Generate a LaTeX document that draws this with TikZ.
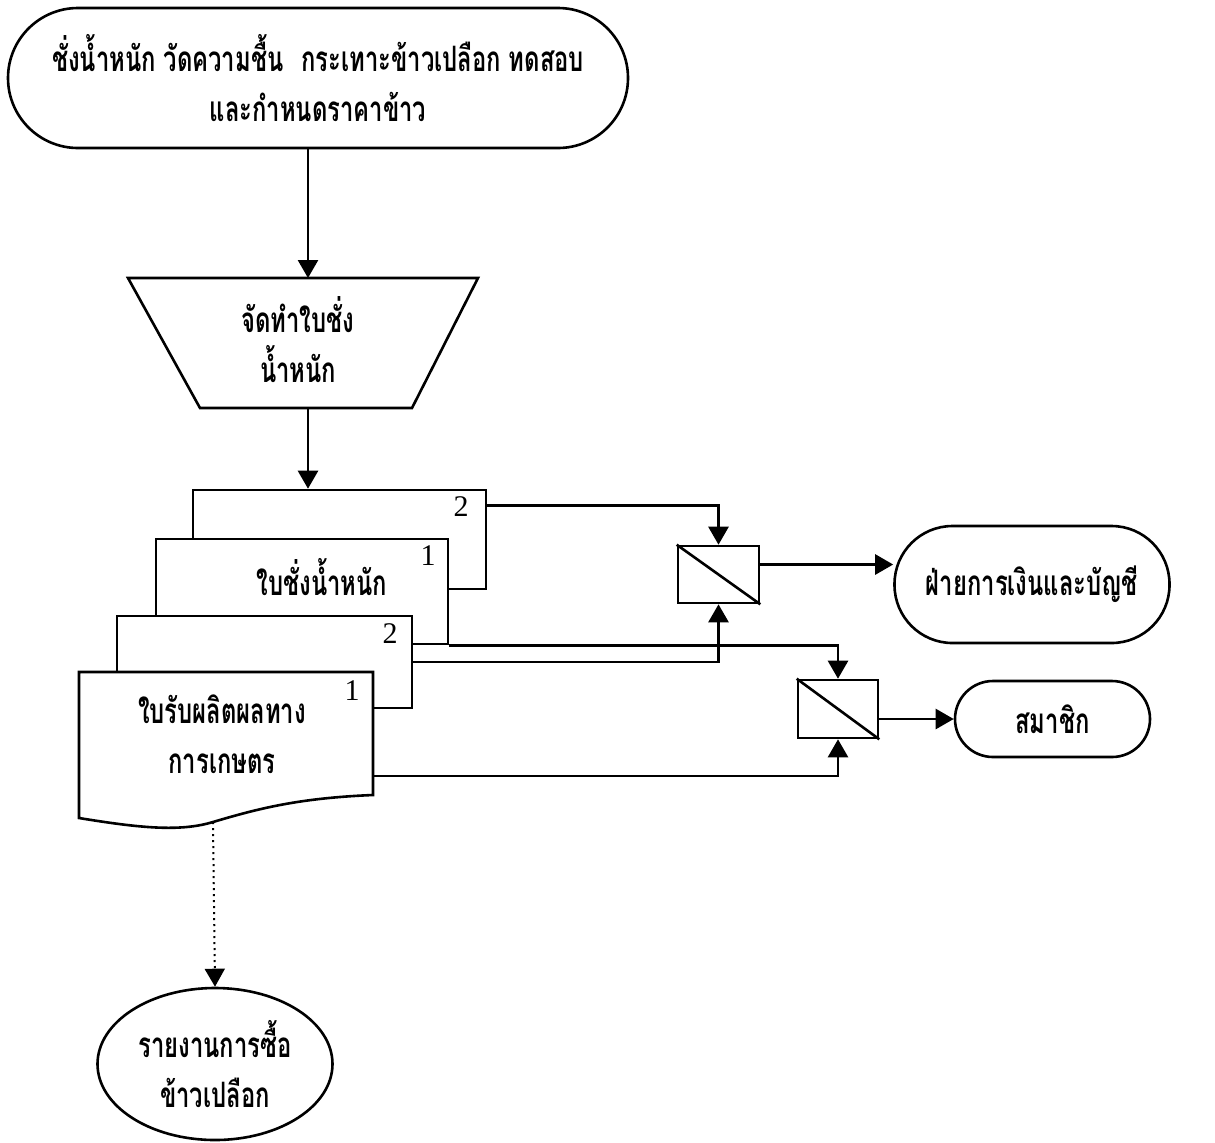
\documentclass[tikz,border=0pt]{standalone}
\usepackage{fontspec}
\usetikzlibrary{arrows.meta,shapes.geometric}
\newfontfamily\thaifont[Script=Thai,FakeStretch=0.68]{Loma}
\newfontfamily\numfont{Liberation Serif}

\begin{document}
\begin{tikzpicture}[x=0.5pt,y=-0.5pt,
  line width=1.3pt,
  txt/.style={font=\thaifont\bfseries\fontsize{17.5}{25}\selectfont, align=center, inner sep=0pt},
  term/.style={draw, fill=white, rectangle, txt},
  docbox/.style={draw, fill=white, rectangle, inner sep=0pt},
  coll/.style={draw, fill=white, rectangle, inner sep=0pt, minimum width=40.5pt, minimum height=28.5pt},
  num/.style={font=\numfont\fontsize{15}{15}\selectfont, inner sep=0pt},
  flow/.style={-{Triangle[length=9pt,width=10pt]}, line width=1.3pt}]
\useasboundingbox (0,0) rectangle (1215,1142);

% start terminator
\node[term, minimum width=310pt, minimum height=70pt, rounded corners=35pt] (start) at (318,78)
  {ชั่งน้ำหนัก วัดความชื้น\hspace{5pt} กระเทาะข้าวเปลือก ทดสอบ\\และกำหนดราคาข้าว};

% manual operation
\draw[fill=white] (128,278) -- (478,278) -- (412,408) -- (200,408) -- cycle;
\coordinate (trapT) at (308,278);
\coordinate (trapB) at (308,408);
\node[txt] (prep) at (298,340) {จัดทำใบชั่ง\\น้ำหนัก};

\draw[flow] (start.south -| trapT) -- (trapT);

% document stack
\node[docbox, minimum width=146.5pt, minimum height=49.5pt] (docA) at (339.5,539.5) {};
\node[num] at (461,507) {2};
\node[docbox, minimum width=146pt, minimum height=52.5pt] (docB) at (302,591.5) {};
\node[num] at (428,556) {1};
\node[txt] (docBt) at (322,577) {ใบชั่งน้ำหนัก};
\node[docbox, minimum width=147.5pt, minimum height=46pt] (docC) at (264.5,662) {};
\node[num] at (390,634) {2};
\draw[fill=white] (79,672) -- (373,672) -- (373,795)
  .. controls (300,798) and (260,808) .. (213,822)
  .. controls (180,832) and (140,828) .. (79,818) -- cycle;
\coordinate (docDr) at (373,776);
\coordinate (docDb) at (213,822);
\node[num] at (352,691) {1};
\node[txt] (docDt) at (222,734) {ใบรับผลิตผลทาง\\การเกษตร};

\draw[flow] (trapB) -- (trapB |- docA.north);

% collators
\node[coll] (coll1) at (718.5,574.5) {};
\draw (coll1.north west) -- (coll1.south east);
\node[coll, minimum width=40pt, minimum height=29pt] (coll2) at (838,709) {};
\draw (coll2.north west) -- (coll2.south east);

% destinations
\node[term, minimum width=137.5pt, minimum height=58.5pt, rounded corners=29pt] (fin) at (1032,584.5) {ฝ่ายการเงินและบัญชี};
\node[term, minimum width=97.5pt, minimum height=38pt, rounded corners=19pt] (mem) at (1052.5,719) {สมาชิก};
\node[draw, ellipse, fill=white, minimum width=117.5pt, minimum height=76pt, txt] (rep) at (215,1064)
  {รายงานการซื้อ\\ข้าวเปลือก};

% connectors
\draw[flow] ([yshift=-8.5pt]docA.north east) -| (coll1.north);
\draw[flow] (docC.east) -| (coll1.south);
\draw[flow] (docB.south east) -| (coll2.north);
\draw[flow] (docDr) -| (coll2.south);
\draw[flow] ([yshift=5pt]coll1.east) -- ([yshift=5pt]coll1.east -| fin.west);
\draw[flow] (coll2.east |- mem.west) -- (mem.west);
\draw[flow, line width=1pt, dotted] (docDb) -- (rep.north);
\end{tikzpicture}
\end{document}
